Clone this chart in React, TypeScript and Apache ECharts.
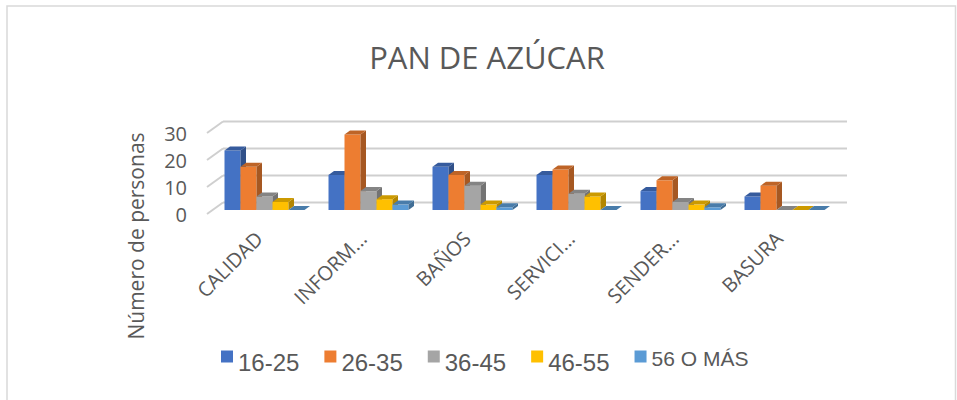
import React, { useEffect, useRef } from "react";
import * as echarts from "echarts";

const categories = ["CALIDAD", "INFORM...", "BAÑOS", "SERVICI...", "SENDER...", "BASURA"];
const seriesNames = ["16-25", "26-35", "36-45", "46-55", "56 O MÁS"];
const age16to25 = [22, 13, 16, 13, 7, 5];
const age26to35 = [16, 28, 13, 15, 11, 9];
const age36to45 = [5, 7, 9, 6, 3, 0];
const age46to55 = [3, 4, 2, 5, 2, 0];
const age56plus = [0, 2, 1, 0, 1, 0];
const yTicks = [0, 10, 20, 30];
const colors = ["#4472C4", "#ED7D31", "#A5A5A5", "#FFC000", "#5B9BD5"];

const seriesValues = [age16to25, age26to35, age36to45, age46to55, age56plus];

// oblique 3D offsets
const WALL_DX = 16;
const WALL_DY = 11.5;
const PLANE_DX = 5.5;
const PLANE_DY = 4;
const DEPTH_DX = 5.5;
const DEPTH_DY = 4;

function shade(hex: string, f: number) {
  const n = parseInt(hex.slice(1), 16);
  const r = Math.round(((n >> 16) & 255) * f);
  const g = Math.round(((n >> 8) & 255) * f);
  const b = Math.round((n & 255) * f);
  return `rgb(${r},${g},${b})`;
}

export default function App() {
  const ref = useRef<HTMLDivElement>(null);
  useEffect(() => {
    if (!ref.current) return;
    const chart = echarts.init(ref.current, undefined, { renderer: "svg" });
    const font = "'Open Sans', 'Noto Sans', sans-serif";
    const legendFont = "'Liberation Sans', Arial, sans-serif";
    const txt = "#595959";

    const barSeries = seriesValues.map((vals, idx) => ({
      type: "custom",
      name: seriesNames[idx],
      coordinateSystem: "cartesian2d",
      clip: false,
      z: 3,
      itemStyle: { color: colors[idx] },
      data: categories.map((c, i) => [i, vals[i]]),
      renderItem: (params: any, api: any) => {
        const cat = api.value(0);
        const v = api.value(1);
        const base = api.coord([cat, 0]);
        const topPt = api.coord([cat, v]);
        const band = api.size([1, 0])[0];
        const bw = (band * 16) / 104;
        const x0 = base[0] - 2.5 * bw + idx * bw + PLANE_DX;
        const yb = base[1] - PLANE_DY;
        const yt = topPt[1] - PLANE_DY;
        const c = colors[idx];
        return {
          type: "group",
          children: [
            {
              type: "rect",
              shape: { x: x0, y: yt, width: bw, height: Math.max(0, yb - yt) },
              style: { fill: c },
            },
            {
              type: "polygon",
              shape: {
                points: [
                  [x0 + bw, yt],
                  [x0 + bw + DEPTH_DX, yt - DEPTH_DY],
                  [x0 + bw + DEPTH_DX, yb - DEPTH_DY],
                  [x0 + bw, yb],
                ],
              },
              style: { fill: shade(c, 0.7) },
            },
            {
              type: "polygon",
              shape: {
                points: [
                  [x0, yt],
                  [x0 + DEPTH_DX, yt - DEPTH_DY],
                  [x0 + bw + DEPTH_DX, yt - DEPTH_DY],
                  [x0 + bw, yt],
                ],
              },
              style: { fill: shade(c, 0.8) },
            },
          ],
        };
      },
    }));

    const gridSeries = {
      type: "custom",
      name: "_walls",
      coordinateSystem: "cartesian2d",
      clip: false,
      z: 1,
      silent: true,
      data: yTicks.map((t) => [0, t]),
      renderItem: (params: any, api: any) => {
        const cs = params.coordSys;
        const y = api.coord([0, api.value(1)])[1];
        const lineStyle = { stroke: "#cfcfcf", lineWidth: 2 };
        return {
          type: "group",
          children: [
            {
              type: "line",
              shape: { x1: cs.x, y1: y, x2: cs.x + WALL_DX, y2: y - WALL_DY },
              style: lineStyle,
            },
            {
              type: "line",
              shape: {
                x1: cs.x + WALL_DX,
                y1: y - WALL_DY,
                x2: cs.x + cs.width + WALL_DX,
                y2: y - WALL_DY,
              },
              style: lineStyle,
            },
          ],
        };
      },
    };

    chart.setOption({
      animation: false,
      color: colors,
      title: {
        text: "PAN DE AZÚCAR",
        left: 482,
        textAlign: "center",
        top: 36,
        textStyle: { fontFamily: font, fontSize: 31, fontWeight: "normal", color: txt },
      },
      legend: {
        data: seriesNames,
        left: 216,
        top: 343,
        icon: "rect",
        itemWidth: 12,
        itemHeight: 12,
        itemGap: 25,
        formatter: (name: string) => (name === "56 O MÁS" ? `{s|${name}}` : `{b|${name}}`),
        textStyle: {
          color: txt,
          fontFamily: legendFont,
          rich: {
            b: { fontSize: 24, color: txt, fontFamily: legendFont, padding: [12, 0, 0, 0] },
            s: { fontSize: 21, color: txt, fontFamily: legendFont, padding: [4, 0, 0, 0] },
          },
        },
      },
      grid: { left: 207, top: 133, width: 624, height: 81, containLabel: false },
      xAxis: {
        type: "category",
        data: categories,
        axisLine: { show: false },
        axisTick: { show: false },
        axisLabel: {
          rotate: 45,
          interval: 0,
          margin: 21,
          fontFamily: font,
          fontSize: 20,
          color: txt,
        },
      },
      yAxis: {
        type: "value",
        min: 0,
        max: 30,
        interval: 10,
        axisLine: { show: false },
        axisTick: { show: false },
        splitLine: { show: false },
        axisLabel: { margin: 20, fontFamily: font, fontSize: 20, color: txt },
      },
      graphic: [
        {
          type: "rect",
          z: -10,
          shape: { x: 7, y: 6, width: 948.5, height: 420 },
          style: { fill: "none", stroke: "#d9d9d9", lineWidth: 1.5 },
        },
        {
          type: "text",
          x: 136,
          y: 236,
          rotation: Math.PI / 2,
          style: {
            text: "Número de personas",
            font: `21px ${font}`,
            fill: txt,
            textAlign: "center",
            textVerticalAlign: "middle",
          },
        },
      ],
      series: [gridSeries, ...barSeries],
    });
    return () => chart.dispose();
  }, []);
  return (
    <div
      ref={ref}
      style={{ position: "fixed", left: 0, top: 0, width: 957, height: 400, background: "#fff" }}
    />
  );
}
